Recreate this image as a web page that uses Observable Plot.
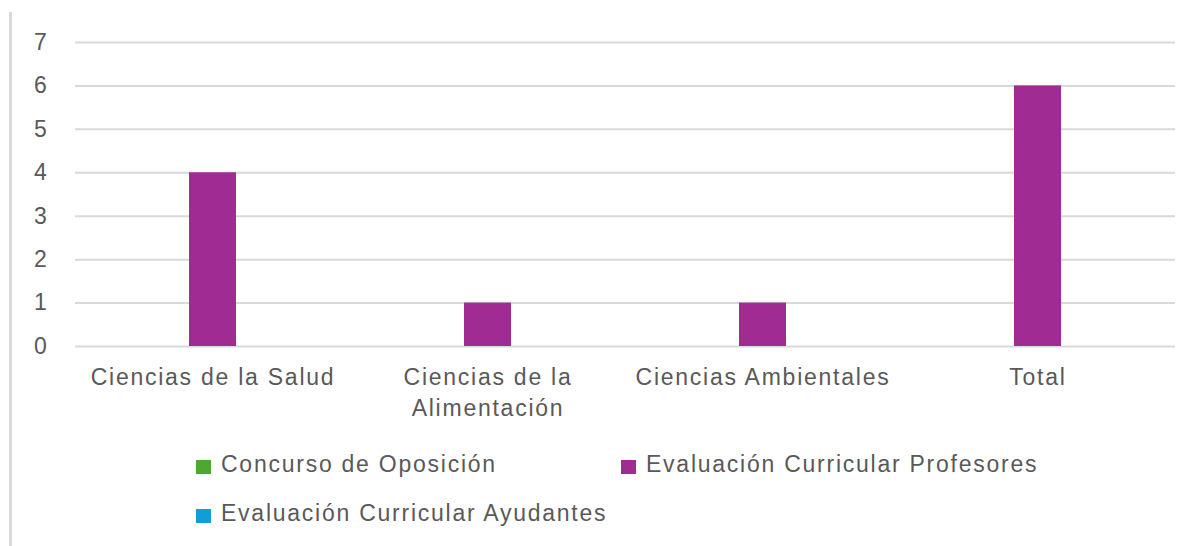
<!DOCTYPE html>
<html>
<head>
<meta charset="utf-8">
<script src="https://cdn.jsdelivr.net/npm/d3@7"></script>
<script src="https://cdn.jsdelivr.net/npm/@observablehq/plot@0.6"></script>
<style>
  html, body { margin: 0; padding: 0; background: #fff; }
  #wrap { position: relative; width: 1199px; height: 546px; overflow: hidden; font-family: "Liberation Sans", Arial, sans-serif; color: #595959; }
  #border { position: absolute; left: 9px; top: 12px; width: 3px; height: 540px; background: #d9d9d9; }
  #chart { position: absolute; left: 0; top: 0; }
  #legend { position: absolute; left: 196px; top: 440px; display: grid; grid-template-columns: 425px 425px; grid-auto-rows: 49px; }
  .item { display: flex; align-items: center; font-size: 23px; letter-spacing: 1.75px; white-space: nowrap; }
  .sw { width: 15px; height: 14px; margin-right: 10px; margin-top: 5px; flex: none; }
</style>
</head>
<body>
<div id="wrap">
  <div id="border"></div>
  <div id="chart"></div>
  <div id="legend"></div>
</div>
<script>
const categories = ["Ciencias de la Salud", "Ciencias de la Alimentación", "Ciencias Ambientales", "Total"];
const series = ["Concurso de Oposición", "Evaluación Curricular Profesores", "Evaluación Curricular Ayudantes"];
const concursoOposicion = [0, 0, 0, 0];
const evalProfesores = [4, 1, 1, 6];
const evalAyudantes = [0, 0, 0, 0];
const colors = ["#4EA72E", "#A02B93", "#0F9ED5"];
const yTicks = [0, 1, 2, 3, 4, 5, 6, 7];

const seriesValues = [concursoOposicion, evalProfesores, evalAyudantes];
const data = [];
categories.forEach((c, i) => {
  series.forEach((s, j) => data.push({category: c, series: s, value: seriesValues[j][i]}));
});

const wrapLabel = d => d === "Ciencias de la Alimentación" ? "Ciencias de la\nAlimentación" : d;

const chart = Plot.plot({
  width: 1199,
  height: 430,
  marginTop: 42,
  marginBottom: 84,
  marginLeft: 74,
  marginRight: 24,
  style: {fontFamily: "Liberation Sans, Arial, sans-serif", color: "#595959", background: "transparent", letterSpacing: "1.75px"},
  fx: {domain: categories, padding: 0, label: null},
  x: {domain: series, paddingInner: 0, paddingOuter: 1.367, axis: null},
  y: {domain: [0, 7], label: null},
  color: {domain: series, range: colors},
  marks: [
    Plot.ruleY(yTicks, {stroke: "#d9d9d9", strokeWidth: 2}),
    Plot.barY(data, {fx: "category", x: "series", y: "value", fill: "series"}),
    Plot.axisY({ticks: yTicks, tickSize: 0, tickPadding: 27, fontSize: 23, fill: "#595959", label: null, tickFormat: d => String(d)}),
    Plot.axisFx({anchor: "bottom", tickSize: 0, tickPadding: 17, fontSize: 23, lineHeight: 1.33, fill: "#595959", label: null, tickFormat: wrapLabel})
  ]
});
document.getElementById("chart").appendChild(chart);

const legend = document.getElementById("legend");
series.forEach((s, j) => {
  const it = document.createElement("div");
  it.className = "item";
  const sw = document.createElement("span");
  sw.className = "sw";
  sw.style.background = colors[j];
  const tx = document.createElement("span");
  tx.textContent = s;
  it.appendChild(sw);
  it.appendChild(tx);
  legend.appendChild(it);
});
</script>
</body>
</html>
